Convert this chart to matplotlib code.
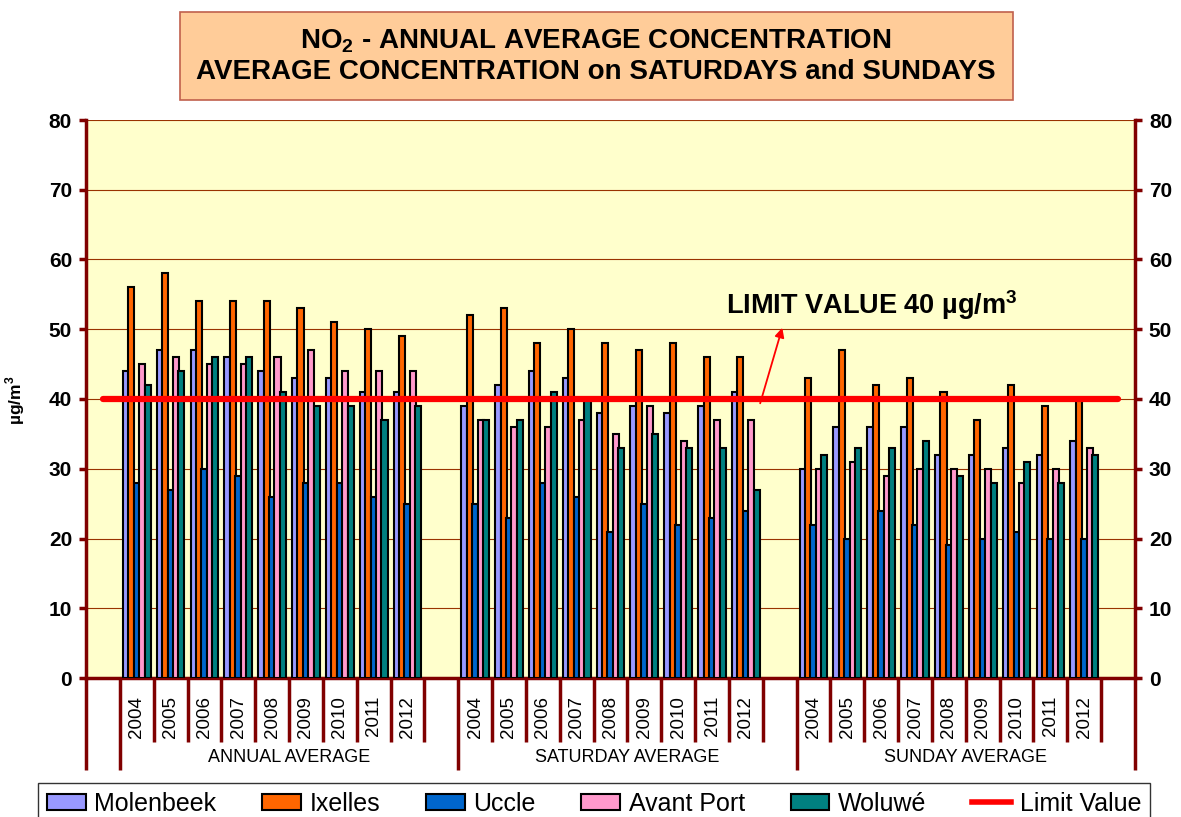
import matplotlib
matplotlib.use("Agg")
import matplotlib.pyplot as plt
from matplotlib.patches import Patch, Rectangle
from matplotlib.lines import Line2D
import numpy as np

plt.rcParams['font.family'] = ['Liberation Sans', 'DejaVu Sans']
plt.rcParams['mathtext.fontset'] = 'custom'
plt.rcParams['mathtext.rm'] = 'Liberation Sans'
plt.rcParams['mathtext.bf'] = 'Liberation Sans:bold'

# data: annual 2004-2012, saturday 2004-2012, sunday 2004-2012
years = ["2004", "2005", "2006", "2007", "2008", "2009", "2010", "2011", "2012"]
groups = ["ANNUAL AVERAGE", "SATURDAY AVERAGE", "SUNDAY AVERAGE"]
stations = ["Molenbeek", "Ixelles", "Uccle", "Avant Port", "Woluwé"]
colors = ["#9999FF", "#FF6600", "#0066CC", "#FF99CC", "#008080"]

molenbeek = [44, 47, 47, 46, 44, 43, 43, 41, 41,
             39, 42, 44, 43, 38, 39, 38, 39, 41,
             30, 36, 36, 36, 32, 32, 33, 32, 34]
ixelles = [56, 58, 54, 54, 54, 53, 51, 50, 49,
           52, 53, 48, 50, 48, 47, 48, 46, 46,
           43, 47, 42, 43, 41, 37, 42, 39, 40]
uccle = [28, 27, 30, 29, 26, 28, 28, 26, 25,
         25, 23, 28, 26, 21, 25, 22, 23, 24,
         22, 20, 24, 22, 19, 20, 21, 20, 20]
avant_port = [45, 46, 45, 45, 46, 47, 44, 44, 44,
              37, 36, 36, 37, 35, 39, 34, 37, 37,
              30, 31, 29, 30, 30, 30, 28, 30, 33]
woluwe = [42, 44, 46, 46, 41, 39, 39, 37, 39,
          37, 37, 41, 40, 33, 35, 33, 33, 27,
          32, 33, 33, 34, 29, 28, 31, 28, 32]
limit_value = 40
series = [molenbeek, ixelles, uccle, avant_port, woluwe]

fig = plt.figure(figsize=(11.81, 8.17), dpi=100)
ax = fig.add_axes([86 / 1181, 1 - 678 / 817, (1135 - 86) / 1181, (678 - 120) / 817])
ax.set_facecolor("#FFFFCC")

# category slots: empty, 9 years, empty, 9 years, empty, 9 years, empty
n_cat = 31
pos = np.array([1 + g * 10 + i for g in range(3) for i in range(len(years))]) + 0.5

width, step = 0.18, 0.16
for k, (vals, col) in enumerate(zip(series, colors)):
    ax.bar(pos + (k - 2) * step, vals, width=width, color=col,
           edgecolor="black", linewidth=1.5, zorder=3)

# limit value line across every category
centers = np.arange(n_cat) + 0.5
ax.plot(centers, [limit_value] * n_cat, color="#FF0000", lw=4.5,
        solid_capstyle="round", zorder=4)

ax.set_xlim(0, n_cat)
ax.set_ylim(0, 80)
ax.set_yticks(range(0, 81, 10))
ax.yaxis.grid(True, color="#993300", lw=0.8, zorder=0)
ax.set_axisbelow(True)

for side in ["left", "right", "bottom"]:
    ax.spines[side].set_color("#800000")
    ax.spines[side].set_linewidth(2.5)
ax.spines["top"].set_visible(False)

ax.tick_params(axis="y", which="both", left=True, right=True, labelleft=True,
               labelright=True, length=5, width=2.5, color="#800000",
               labelsize=15, pad=5)
for lab in ax.get_yticklabels():
    lab.set_fontweight("bold")

# x boundary ticks: short between years, long between groups
long_b = [0, 1, 11, 21, 31]
short_b = [b for b in range(n_cat + 1) if b not in long_b]
ax.set_xticks(short_b)
ax.set_xticks(long_b, minor=True)
ax.tick_params(axis="x", which="major", length=46, width=2.5, color="#800000",
               labelbottom=False, direction="out")
ax.tick_params(axis="x", which="minor", length=66, width=2.5, color="#800000",
               labelbottom=False, direction="out")

for p, yr in zip(pos, years * 3):
    ax.annotate(yr, xy=(p, 0), xycoords=("data", "axes fraction"),
                xytext=(0, -13), textcoords="offset points",
                ha="center", va="top", rotation=90, fontsize=13.5)
for g, name in enumerate(groups):
    ax.annotate(name, xy=(6 + g * 10, 0), xycoords=("data", "axes fraction"),
                xytext=(0, -57), textcoords="offset points",
                ha="center", va="center", fontsize=13)

# limit annotation
ax.text(18.9, 53.5, r"LIMIT VALUE 40 µg/m$^\mathbf{3}$", fontsize=19.5,
        fontweight="bold", va="center", ha="left", zorder=5)
ax.annotate("", xy=(20.6, 50.6), xytext=(19.9, 39.0),
            arrowprops=dict(arrowstyle="-|>", color="#FF0000", lw=1.3,
                            mutation_scale=14), zorder=5)

fig.text(15 / 1181, 1 - 400 / 817, r"µg/m$^\mathbf{3}$", rotation=90,
         fontsize=12.5, fontweight="bold", ha="center", va="center")

# title box
fig.patches.append(Rectangle((180 / 1181, 1 - 100 / 817), 833 / 1181, 88 / 817,
                             transform=fig.transFigure, facecolor="#FFCC99",
                             edgecolor="#C0604D", lw=1.2))
fig.text(596 / 1181, 1 - 56 / 817,
         "NO$_\\mathbf{2}$ - ANNUAL AVERAGE CONCENTRATION\n"
         "AVERAGE CONCENTRATION on SATURDAYS and SUNDAYS",
         ha="center", va="center", fontsize=20, fontweight="bold",
         linespacing=1.2)

handles = [Patch(facecolor=c, edgecolor="black", lw=1.5) for c in colors]
handles.append(Line2D([], [], color="#FF0000", lw=4))
leg = fig.legend(handles, stations + ["Limit Value"], loc="upper left",
                 bbox_to_anchor=(38 / 1181, 1 - 783 / 817, 1112 / 1181, 0),
                 mode="expand", ncol=6,
                 fontsize=18, frameon=True, fancybox=False, edgecolor="black",
                 borderaxespad=0, handlelength=1.55, handleheight=0.6,
                 handletextpad=0.35, columnspacing=1.6, borderpad=0.35)
leg.get_frame().set_linewidth(1.0)

fig.savefig("out.png", dpi=100)
